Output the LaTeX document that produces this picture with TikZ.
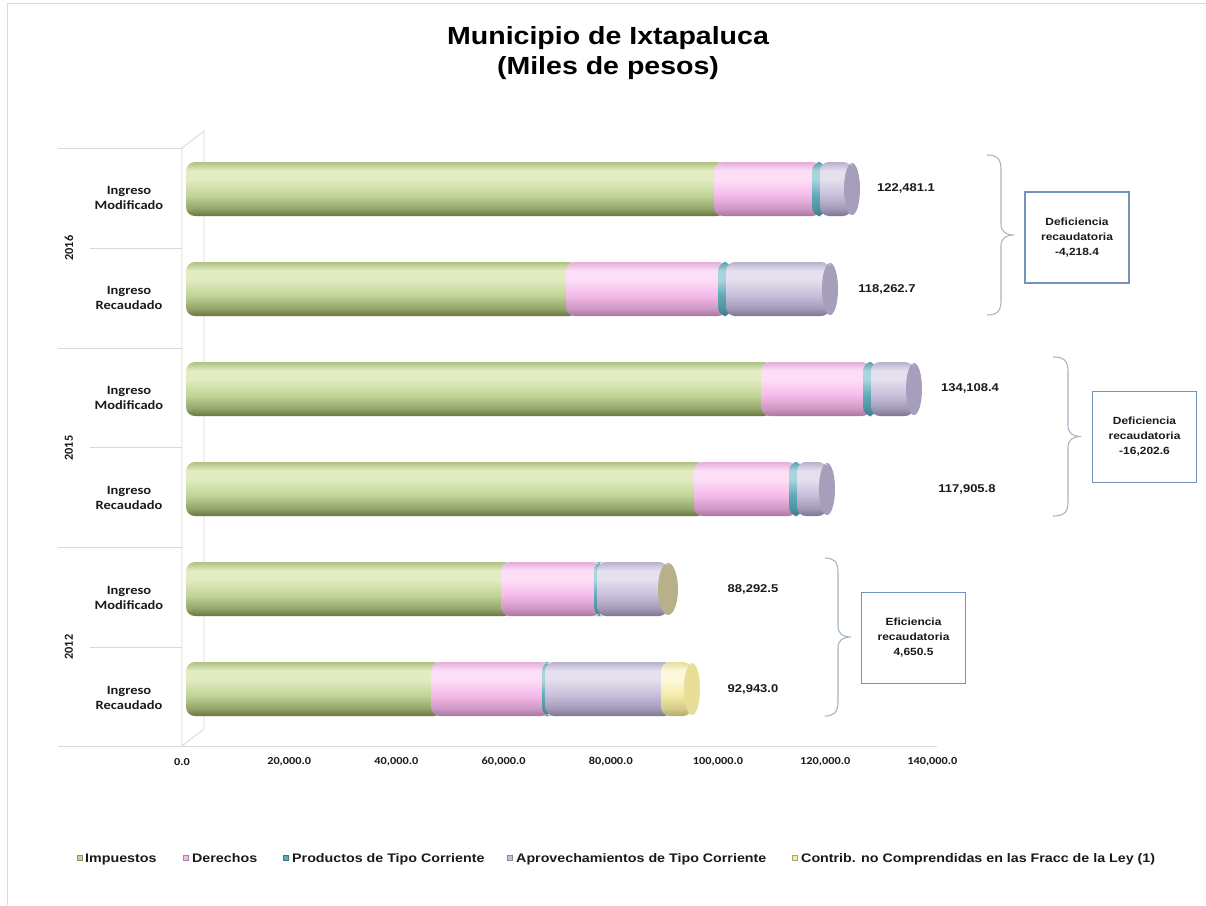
\documentclass[tikz,border=0pt]{standalone}
\usepackage{fontspec}
\newfontfamily\arialx[FakeStretch=1.15]{Liberation Sans}
\newfontfamily\calx[FakeStretch=1.15]{Carlito}
\newfontfamily\calr{Carlito}
\definecolor{grM}{HTML}{C0D496}
\definecolor{grL}{HTML}{E2ECC0}
\definecolor{grD}{HTML}{67773F}
\definecolor{pkM}{HTML}{F4BAE9}
\definecolor{pkL}{HTML}{FCDFF6}
\definecolor{pkD}{HTML}{A8769E}
\definecolor{lvM}{HTML}{C7BFDA}
\definecolor{lvL}{HTML}{E4E0EE}
\definecolor{lvD}{HTML}{7E7593}
\definecolor{tlM}{HTML}{5FAAB8}
\definecolor{tlL}{HTML}{A8D5DD}
\definecolor{tlD}{HTML}{3E7A86}
\definecolor{ylM}{HTML}{F4EBA8}
\definecolor{ylL}{HTML}{FCF8DC}
\definecolor{ylD}{HTML}{B3AB70}
\definecolor{lvF}{HTML}{A69EBA}
\definecolor{khF}{HTML}{B8B088}
\definecolor{ylF}{HTML}{E8DE98}
\definecolor{gridc}{HTML}{DADADA}
\definecolor{boxc}{HTML}{7393B8}
\definecolor{bracec}{HTML}{A7B6C6}
\definecolor{txt}{HTML}{1A1A1A}
% cylinder shading per colour family (path box = 25bp..75bp)
\newcommand\mkshade[1]{%
  \colorlet{#1A}{#1M!50!#1D}\colorlet{#1B}{#1M!80!#1D}%
  \pgfdeclareverticalshading{#1sh}{100bp}{color(0bp)=(#1D); color(25bp)=(#1D); color(32bp)=(#1A); color(44bp)=(#1M); color(59bp)=(#1L); color(67bp)=(#1L); color(75bp)=(#1B); color(100bp)=(#1B)}}
\mkshade{gr}\mkshade{pk}\mkshade{lv}\mkshade{tl}\mkshade{yl}
% cylinder segment: x1, x2, centre y, colour prefix
\newcommand\cseg[4]{\shade[rounded corners=9pt, shading=#4sh] (#1,#3-27) rectangle (#2,#3+27);}
% end face: x centre, centre y, x radius, colour
\newcommand\cface[4]{\fill[#4] (#1,#2) ellipse [x radius=#3, y radius=26];
  \draw[white, opacity=0.5, line width=1pt] (#1,#2-24) arc[start angle=100, end angle=260, x radius=#3, y radius=24.4];}
% right curly brace: arm-end x, arm x, top, bottom
\newcommand\curlyR[4]{\pgfmathsetmacro\bmid{(#3+#4)/2}
  \draw[bracec, line width=1.1pt] (#1,#3) .. controls (#2-5,#3) and (#2,#3+3) .. (#2,#3+14) -- (#2,\bmid-11) .. controls (#2,\bmid-3) and (#2+5,\bmid) .. (#2+13,\bmid) .. controls (#2+5,\bmid) and (#2,\bmid+3) .. (#2,\bmid+11) -- (#2,#4-14) .. controls (#2,#4-3) and (#2-5,#4) .. (#1,#4);}
\tikzset{
  catlab/.style={align=center, text=txt, font=\calx\bfseries\fontsize{12.6}{15}\selectfont},
  yearlab/.style={rotate=90, text=txt, font=\calr\bfseries\fontsize{12.3}{14}\selectfont},
  vallab/.style={text=txt, font=\arialx\bfseries\fontsize{11.3}{13}\selectfont},
  ticklab/.style={text=txt, font=\calx\bfseries\fontsize{10.7}{13}\selectfont},
  effbox/.style={draw=boxc, line width=1.2pt, fill=white, minimum width=104pt, minimum height=91pt, align=center, text=txt, font=\arialx\bfseries\fontsize{10.4}{15}\selectfont},
  leglab/.style={anchor=base west, text=txt, inner sep=0pt, font=\arialx\bfseries\fontsize{12.4}{14}\selectfont},
  legmark/.style={minimum size=5pt, inner sep=0pt, draw=#1!70!black, fill=#1, line width=0.4pt},
  gridln/.style={gridc, line width=0.9pt}
}
\begin{document}
\begin{tikzpicture}[x=1pt,y=-1pt]
\useasboundingbox (0,0) rectangle (1206,905);
\fill[white] (0,0) rectangle (1206,905);
\draw[black!14, line width=1pt] (7,905) -- (7,3) -- (1206,3);

% title
\node[font=\arialx\bfseries\fontsize{24.8}{30}\selectfont, align=center, text=black] (title) at (608,53) {Municipio de Ixtapaluca\\(Miles de pesos)};

% category grid lines and 3-D wall
\foreach \yy in {148,348,547,746} \draw[gridln] (58,\yy) -- (182,\yy);
\foreach \yy in {248,447,647} \draw[gridln] (90,\yy) -- (182,\yy);
\draw[gridln] (182,746) -- (182,148) -- (204,131) -- (204,729) -- cycle;
\draw[gridln] (182,746) -- (937,746);

% tick labels
\foreach \i/\t in {0/{0.0},1/{20,000.0},2/{40,000.0},3/{60,000.0},4/{80,000.0},5/{100,000.0},6/{120,000.0},7/{140,000.0}}
  \node[ticklab] (tick\i) at (182+107.2*\i,762) {\t};

% category labels
\node[catlab] (c1) at (129,198) {Ingreso\\Modificado};
\node[catlab] (c2) at (129,298) {Ingreso\\Recaudado};
\node[catlab] (c3) at (129,398) {Ingreso\\Modificado};
\node[catlab] (c4) at (129,498) {Ingreso\\Recaudado};
\node[catlab] (c5) at (129,598) {Ingreso\\Modificado};
\node[catlab] (c6) at (129,698) {Ingreso\\Recaudado};
\node[yearlab] (y1) at (69,248) {2016};
\node[yearlab] (y2) at (69,448) {2015};
\node[yearlab] (y3) at (69,647) {2012};

% bars
% 2016 IM
\cseg{186}{726}{189}{gr} \cseg{714}{821}{189}{pk} \cseg{812}{826}{189}{tl} \cseg{820}{852}{189}{lv} \cface{852}{189}{8}{lvF}
% 2016 IR
\cseg{186}{578}{289}{gr} \cseg{566}{727}{289}{pk} \cseg{718}{732}{289}{tl} \cseg{726}{830}{289}{lv} \cface{830}{289}{8}{lvF}
% 2015 IM
\cseg{186}{773}{389}{gr} \cseg{761}{871}{389}{pk} \cseg{863}{877}{389}{tl} \cseg{871}{914}{389}{lv} \cface{914}{389}{8}{lvF}
% 2015 IR
\cseg{186}{706}{489}{gr} \cseg{694}{797}{489}{pk} \cseg{789}{803}{489}{tl} \cseg{797}{827}{489}{lv} \cface{827}{489}{8}{lvF}
% 2012 IM
\cseg{186}{513}{589}{gr} \cseg{501}{601}{589}{pk} \cseg{594}{604}{589}{tl} \cseg{597}{668}{589}{lv} \cface{668}{589}{10}{khF}
% 2012 IR
\cseg{186}{443}{689}{gr} \cseg{431}{550}{689}{pk} \cseg{542}{552}{689}{tl} \cseg{545}{673}{689}{lv} \cseg{661}{692}{689}{yl} \cface{692}{689}{8}{ylF}

% value labels
\node[vallab] (v1) at (906,188) {122,481.1};
\node[vallab] (v2) at (887,289) {118,262.7};
\node[vallab] (v3) at (970,388) {134,108.4};
\node[vallab] (v4) at (967,489) {117,905.8};
\node[vallab] (v5) at (753,589) {88,292.5};
\node[vallab] (v6) at (753,689) {92,943.0};

% braces and boxes
\curlyR{987}{1001}{155}{315}
\curlyR{1053}{1068}{357}{516}
\curlyR{825}{838}{558}{716}
\node[effbox] (b1) at (1077,237.5) {Deficiencia\\recaudatoria\\-4,218.4};
\node[effbox] (b2) at (1144.5,437) {Deficiencia\\recaudatoria\\-16,202.6};
\node[effbox] (b3) at (913.5,638) {Eficiencia\\recaudatoria\\4,650.5};

% legend
\node[legmark=grM] (m1) at (80,858) {};
\node[leglab] (l1) at (85,862.5) {Impuestos};
\node[legmark=pkM] (m2) at (186,858) {};
\node[leglab] (l2) at (192,862.5) {Derechos};
\node[legmark=tlM] (m3) at (286,858) {};
\node[leglab] (l3) at (292,862.5) {Productos de Tipo Corriente};
\node[legmark=lvM] (m4) at (510,858) {};
\node[leglab] (l4) at (516,862.5) {Aprovechamientos de Tipo Corriente};
\node[legmark=ylM] (m5) at (795,858) {};
\node[leglab] (l5) at (801,862.5) {Contrib. no Comprendidas en las Fracc de la Ley (1)};
\end{tikzpicture}
\end{document}
